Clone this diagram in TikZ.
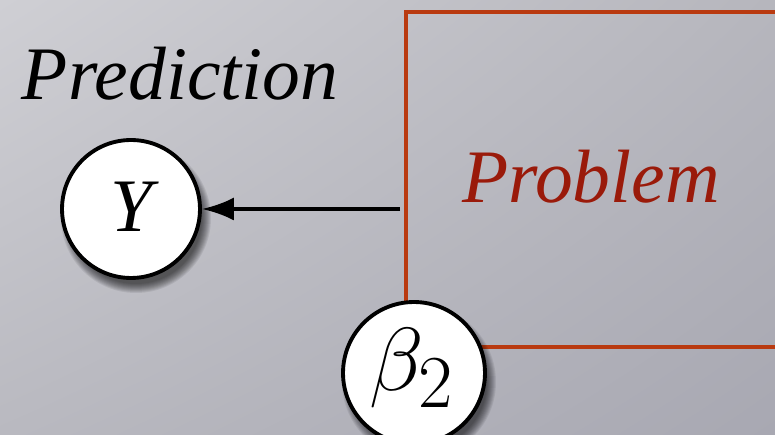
\documentclass[tikz,border=0pt]{standalone}
\usepackage{graphicx}
\usepackage[no-math]{fontspec}
\setmainfont{Liberation Serif}
\usetikzlibrary{arrows.meta,shadings}
\definecolor{bgTL}{HTML}{CFCFD4}
\definecolor{bgTR}{HTML}{B6B6BD}
\definecolor{bgBL}{HTML}{B9B9C0}
\definecolor{bgBR}{HTML}{A8A8B2}
\definecolor{boxred}{HTML}{B93A10}
\definecolor{textred}{HTML}{9A1A0A}
\tikzset{
  varnode/.style={circle, draw=black, fill=white, line width=2.2pt, inner sep=0pt},
  bigtext/.style={font=\fontsize{43}{50}\selectfont\itshape, anchor=base},
}
\newcommand{\softshadow}[3]{%
  \foreach \k in {0,...,9}{%
    \fill[black, opacity=0.075] (#1+5,#2+9) circle ({(#3+9-\k)*0.02cm});
  }%
}
\begin{document}
\begin{tikzpicture}[x=0.02cm, y=-0.02cm]
\useasboundingbox (0,0) rectangle (775,435);
\shade[upper left=bgTL, upper right=bgTR, lower left=bgBL, lower right=bgBR] (0,0) rectangle (775,435);
\begin{scope}
\clip (0,0) rectangle (775,435);
% plate
\draw[boxred, line width=2.2pt] (406,347) -- (406,12) -- (790,12) -- (790,347) -- cycle;
% shadows
\softshadow{131}{209}{66}
\softshadow{414}{373}{68}
% nodes
\node[varnode, minimum size=2.76cm] (Y) at (131,209) {};
\node[bigtext] (Ylab) at (132,232) {Y};
\node[varnode, minimum size=2.84cm] (B) at (414,373) {};
\node (Blab) at (412,368) {\scalebox{2.05}{\fontsize{24.88}{30}\selectfont$\beta_2$}};
\node[bigtext] (pred) at (180,100) {Prediction};
\node[bigtext, text=textred] (prob) at (591,203) {Problem};
\coordinate (src) at (400,209);
\draw[line width=2pt, -{Latex[length=0.64cm, width=0.46cm]}] (src) -- (Y.east);
\end{scope}
\end{tikzpicture}
\end{document}
